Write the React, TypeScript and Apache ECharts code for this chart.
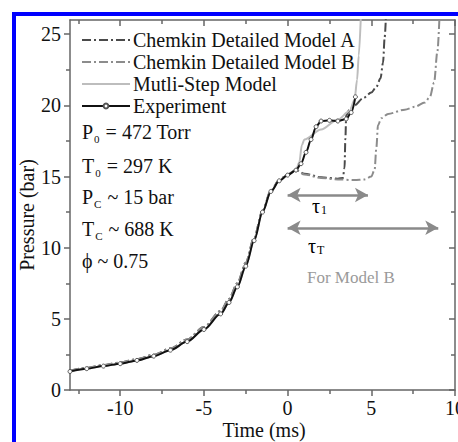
import React, { useEffect, useRef } from "react";
import * as echarts from "echarts";

const FONT = "Liberation Serif";

// shared compression stroke (all curves)
const compX = [-13, -12, -11, -10, -9, -8, -7, -6, -5, -4, -3.5, -3, -2.5, -2, -1.5, -1, -0.5, 0, 0.5];
const compY = [1.3, 1.5, 1.68, 1.85, 2.08, 2.38, 2.8, 3.4, 4.25, 5.35, 6.15, 7.25, 8.7, 10.5, 12.5, 13.95, 14.7, 15.1, 15.45];
const modelCompY = [1.35, 1.56, 1.75, 1.93, 2.17, 2.48, 2.92, 3.55, 4.42, 5.55, 6.4, 7.5, 8.95, 10.7, 12.6, 14.0, 14.75, 15.15, 15.45];

const expTailX = [0.8, 1.1, 1.4, 1.7, 2.0, 2.5, 3.0, 3.5, 3.8, 4.05];
const expTailY = [15.9, 16.7, 17.6, 18.5, 18.9, 18.95, 18.9, 19.05, 19.5, 20.6];

const multiTailX = [0.7, 0.85, 1.0, 2.0, 3.0, 3.7, 4.0, 4.15, 4.25, 4.4];
const multiTailY = [16.0, 17.2, 17.6, 18.3, 19.0, 19.6, 20.4, 21.8, 23.5, 27];

const modelATailX = [1.0, 2.0, 3.0, 3.3, 3.4, 3.45, 3.5, 3.7, 4.0, 4.5, 5.0, 5.3, 5.55, 5.7, 5.8, 5.9];
const modelATailY = [15.2, 14.95, 14.85, 14.9, 15.6, 17.6, 19.3, 19.7, 20.0, 20.5, 20.9, 21.3, 21.9, 23.0, 24.8, 27];

const modelBTailX = [1.0, 2.0, 3.0, 4.0, 4.6, 5.0, 5.2, 5.3, 5.4, 5.6, 6.0, 7.0, 7.6, 8.2, 8.5, 8.75, 8.95, 9.1];
const modelBTailY = [15.15, 14.9, 14.8, 14.75, 14.8, 15.0, 15.5, 17.0, 18.6, 19.1, 19.4, 19.7, 19.9, 20.2, 20.6, 21.6, 23.8, 27];

const xMajor = [-10, -5, 0, 5, 10];
const xMinor = [-12.5, -7.5, -2.5, 2.5, 7.5];
const yMajor = [0, 5, 10, 15, 20, 25];
const yMinor = [2.5, 7.5, 12.5, 17.5, 22.5];

const tau1 = [0, 4.8, 13.7];
const tauT = [0, 9.0, 11.4];

const zip = (xs: number[], ys: number[]) => xs.map((x, i) => [x, ys[i]]);

export default function App() {
  const ref = useRef<HTMLDivElement>(null);
  useEffect(() => {
    const chart = echarts.init(ref.current!, undefined, { renderer: "svg" });
    const axisLine = { show: true, onZero: false, lineStyle: { color: "#666", width: 1.5 } };
    const mkX = (pos: string, vals: number[], len: number, inside: boolean, labels: boolean, line: boolean) => ({
      type: "value", position: pos, min: -13, max: 10, gridIndex: 0, offset: 0,
      axisLine: { ...axisLine, show: line },
      axisTick: { show: true, customValues: vals, length: len, inside, lineStyle: { color: "#666", width: 1.5 } },
      axisLabel: labels ? { show: true, customValues: vals, fontSize: 20, fontFamily: FONT, color: "#111", margin: 8 } : { show: false },
      splitLine: { show: false },
    });
    const mkY = (pos: string, vals: number[], len: number, inside: boolean, labels: boolean, line: boolean) => ({
      type: "value", position: pos, min: 0, max: 26, gridIndex: 0, offset: 0,
      axisLine: { ...axisLine, show: line },
      axisTick: { show: true, customValues: vals, length: len, inside, lineStyle: { color: "#666", width: 1.5 } },
      axisLabel: labels ? { show: true, customValues: vals, fontSize: 20, fontFamily: FONT, color: "#111", margin: 9 } : { show: false },
      splitLine: { show: false },
    });
    const dashDot = [9, 3, 2, 3];
    const sub = (main: string, s: string, rest: string) => `{m|${main}}{s|${s}}{m|${rest}}`;
    const rich = {
      m: { fontSize: 20, fontFamily: FONT, color: "#111", verticalAlign: "top", lineHeight: 22 },
      s: { fontSize: 11, fontFamily: FONT, color: "#111", verticalAlign: "bottom", lineHeight: 11, padding: [16, 1, 0, 1] },
    };
    const richG = {
      m: { fontSize: 20, fontFamily: FONT, color: "#999", verticalAlign: "top", lineHeight: 20 },
      s: { fontSize: 12, fontFamily: FONT, color: "#999", verticalAlign: "bottom", lineHeight: 12, padding: [12, 0, 0, 1] },
    };
    const paramLines = [
      [sub("P", "0", " = 472 Torr"), 122],
      [sub("T", "0", " = 297 K"), 156],
      [sub("P", "C", " ~ 15 bar"), 187],
      [sub("T", "C", " ~ 688 K"), 219],
      ["{m|\u03d5 ~ 0.75}", 251],
    ] as [string, number][];
    const legendNames = ["Chemkin Detailed Model A", "Chemkin Detailed Model B", "Mutli-Step Model", "Experiment"];
    chart.setOption({
      animation: false,
      backgroundColor: "#fff",
      grid: { left: 70, right: 3, top: 20, bottom: 52, outerBoundsMode: "none", containLabel: false },
      xAxis: [
        mkX("bottom", xMajor, 6, false, true, true),
        mkX("bottom", xMinor, 4, false, false, false),
        mkX("top", xMajor, 6, true, false, true),
        mkX("top", xMinor, 4, true, false, false),
      ],
      yAxis: [
        mkY("left", yMajor, 6, false, true, true),
        mkY("left", yMinor, 4, false, false, false),
        mkY("right", yMajor, 6, true, false, true),
        mkY("right", yMinor, 4, true, false, false),
      ],
      legend: {
        orient: "vertical", left: 81, top: 30, itemWidth: 48, itemHeight: 6, itemGap: 2, padding: 0,
        textStyle: { fontSize: 20, fontFamily: FONT, color: "#111", lineHeight: 20, padding: [0, 0, 0, -2] },
        data: legendNames.map((n, i) => (i < 3 ? { name: n, itemStyle: { opacity: 0 } } : { name: n })),
      },
      series: [
        {
          name: legendNames[0], type: "line", data: [...zip(compX, modelCompY), ...zip(modelATailX, modelATailY)],
          showSymbol: false, symbol: "none", smooth: 0.3, smoothMonotone: "x",
          lineStyle: { color: "#4a4a4a", width: 2, type: dashDot }, itemStyle: { color: "#4a4a4a" },
        },
        {
          name: legendNames[1], type: "line", data: [...zip(compX, modelCompY), ...zip(modelBTailX, modelBTailY)],
          showSymbol: false, symbol: "none", smooth: 0.3, smoothMonotone: "x",
          lineStyle: { color: "#8c8c8c", width: 2, type: dashDot }, itemStyle: { color: "#8c8c8c" },
          markLine: {
            silent: true, symbol: ["arrow", "arrow"], symbolSize: [11, 13], animation: false,
            label: { show: false },
            lineStyle: { color: "#8a8a8a", width: 2.5, type: "solid" },
            data: [
              [{ coord: [tau1[0], tau1[2]] }, { coord: [tau1[1], tau1[2]] }],
              [{ coord: [tauT[0], tauT[2]] }, { coord: [tauT[1], tauT[2]] }],
            ],
          },
        },
        {
          name: legendNames[2], type: "line", data: [...zip(compX, compY), ...zip(multiTailX, multiTailY)],
          showSymbol: false, symbol: "none", smooth: 0.3, smoothMonotone: "x",
          lineStyle: { color: "#bdbdbd", width: 2 }, itemStyle: { color: "#bdbdbd" },
        },
        {
          name: legendNames[3], type: "line", data: [...zip(compX, compY), ...zip(expTailX, expTailY)],
          showSymbol: true, symbol: "circle", symbolSize: 4, smooth: 0.3, smoothMonotone: "x",
          lineStyle: { color: "#111", width: 2 },
          itemStyle: { color: "#fff", borderColor: "#555", borderWidth: 1 },
        },
      ],
      graphic: [
        { type: "rect", shape: { x: 12, y: 12, width: 446, height: 4 }, style: { fill: "#0000ff" }, z: 100 },
        { type: "rect", shape: { x: 12, y: 12, width: 4, height: 430 }, style: { fill: "#0000ff" }, z: 100 },
        {
          type: "text", x: 27, y: 215, rotation: Math.PI / 2,
          style: { text: "Pressure (bar)", fontSize: 20, fontFamily: FONT, fill: "#111", align: "center", verticalAlign: "middle" },
        },
        {
          type: "text", x: 264, y: 430,
          style: { text: "Time (ms)", fontSize: 20, fontFamily: FONT, fill: "#111", align: "center", verticalAlign: "middle" },
        },
        ...paramLines.map(([t, y]) => ({
          type: "text", x: 82, y, style: { text: t, rich, fill: "#111" },
        })),
        { type: "text", x: 312, y: 196, style: { text: "{m|\u03c4}{s|1}", rich: richG } },
        { type: "text", x: 308, y: 236, style: { text: "{m|\u03c4}{s|T}", rich: richG } },
        {
          type: "text", x: 307, y: 277,
          style: { text: "For Model B", fontSize: 17, fontFamily: FONT, fill: "#9a9a9a", align: "left", verticalAlign: "middle" },
        },
      ],
    });
    return () => chart.dispose();
  }, []);
  return <div ref={ref} style={{ position: "fixed", left: 0, top: 0, width: 458, height: 442, background: "#fff" }} />;
}
